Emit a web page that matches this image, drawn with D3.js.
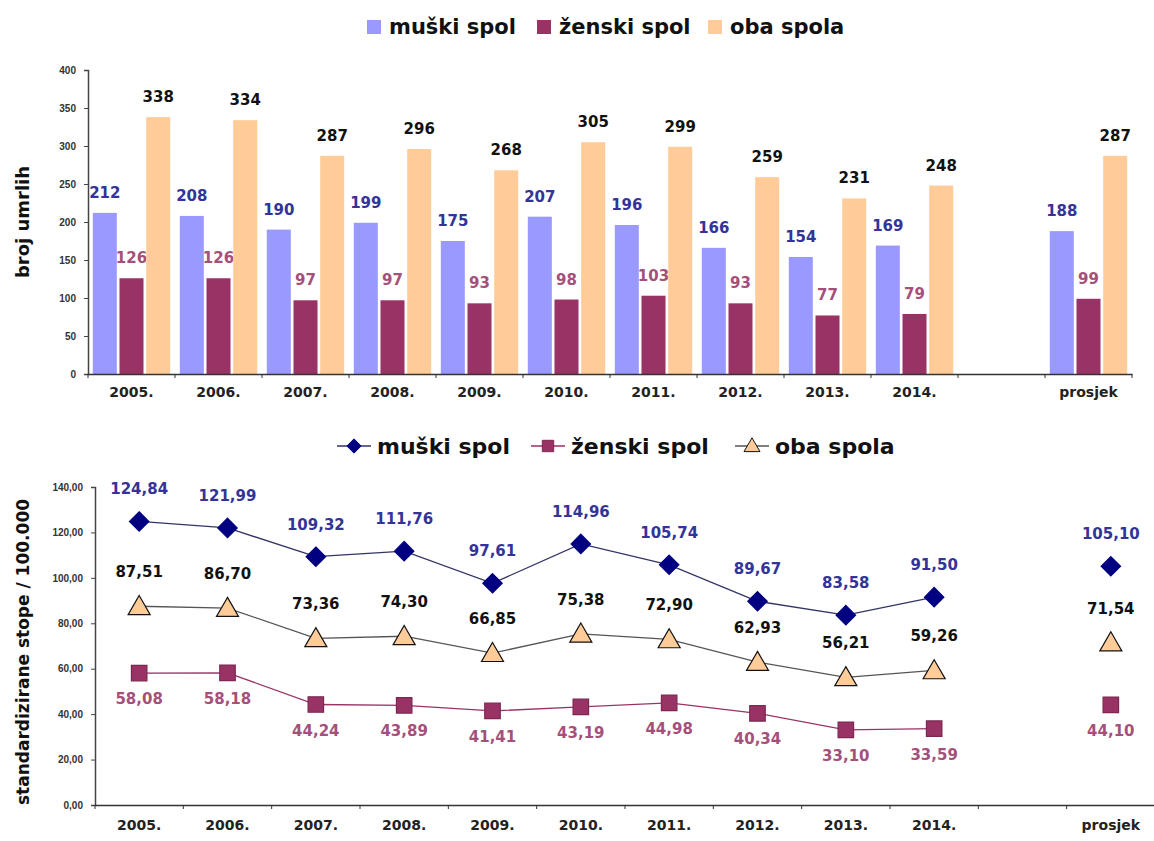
<!DOCTYPE html>
<html>
<head>
<meta charset="utf-8">
<script src="https://cdn.jsdelivr.net/npm/d3@7"></script>
<style>
  body { margin: 0; background: #fff; }
  svg { font-family: "DejaVu Sans", Verdana, sans-serif; font-weight: bold; }
</style>
</head>
<body>
<svg id="chart" width="1154" height="841"></svg>
<script>
// categories (blank slot between 2014. and prosjek)
var categories = ["2005.", "2006.", "2007.", "2008.", "2009.", "2010.", "2011.", "2012.", "2013.", "2014.", "", "prosjek"]
var seriesNames = ["muški spol", "ženski spol", "oba spola"]

// number of deaths
var deathsMale   = [212, 208, 190, 199, 175, 207, 196, 166, 154, 169, null, 188]
var deathsFemale = [126, 126, 97, 97, 93, 98, 103, 93, 77, 79, null, 99]
var deathsBoth   = [338, 334, 287, 296, 268, 305, 299, 259, 231, 248, null, 287]
var deathTicks   = [0, 50, 100, 150, 200, 250, 300, 350, 400]

// standardized rates / 100.000
var rateMale   = [124.84, 121.99, 109.32, 111.76, 97.61, 114.96, 105.74, 89.67, 83.58, 91.50, null, 105.10]
var rateFemale = [58.08, 58.18, 44.24, 43.89, 41.41, 43.19, 44.98, 40.34, 33.10, 33.59, null, 44.10]
var rateBoth   = [87.51, 86.70, 73.36, 74.30, 66.85, 75.38, 72.90, 62.93, 56.21, 59.26, null, 71.54]
var rateTicks  = [0, 20, 40, 60, 80, 100, 120, 140]

var hr = d3.formatLocale({decimal: ",", thousands: ".", grouping: [3], currency: ["", ""]})
var fmt2 = hr.format(".2f")
var tickFont = "'Liberation Sans', Arial, sans-serif"
var mainFont = "'DejaVu Sans', Verdana, sans-serif"

var svg = d3.select("#chart")
var keys = categories.map((c, i) => "c" + i)

// ---------- top: bar chart ----------
var barColors = ["#9999ff", "#993366", "#ffcc99"]
var barLabelColors = ["#333399", "#a5507a", "#111"]
var m1 = {left: 88, right: 1132, top: 70, bottom: 374}

var x1 = d3.scaleBand().domain(keys).range([m1.left, m1.right])
var xs1 = d3.scaleBand().domain([0, 1, 2]).range([0, x1.bandwidth()]).paddingInner(0.1).paddingOuter(0.18)
var y1 = d3.scaleLinear().domain([0, 400]).range([m1.bottom, m1.top])

// legend
var leg1 = svg.append("g").attr("transform", "translate(367,27)")
var leg1x = [0, 170, 341]
seriesNames.forEach((n, i) => {
  var g = leg1.append("g").attr("transform", `translate(${leg1x[i]},0)`)
  g.append("rect").attr("x", 0).attr("y", -7).attr("width", 14).attr("height", 14).attr("fill", barColors[i])
  g.append("text").attr("x", 22).attr("y", 7).attr("font-size", 21).attr("fill", "#111").text(n)
})

var barSeries = [deathsMale, deathsFemale, deathsBoth]
barSeries.forEach((vals, s) => {
  var g = svg.append("g")
  keys.forEach((k, i) => {
    if (vals[i] == null) return
    var bx = x1(k) + xs1(s)
    g.append("rect")
      .attr("x", bx).attr("y", y1(vals[i]))
      .attr("width", xs1.bandwidth()).attr("height", y1(0) - y1(vals[i]))
      .attr("fill", barColors[s])
    g.append("text")
      .attr("x", bx + xs1.bandwidth() / 2).attr("y", y1(vals[i]) - 15)
      .attr("text-anchor", "middle").attr("font-size", 15)
      .attr("fill", barLabelColors[s]).text(vals[i])
  })
})

var yAxis1 = d3.axisLeft(y1).tickValues(deathTicks).tickSize(4).tickPadding(8)
var ga1 = svg.append("g").attr("transform", `translate(${m1.left},0)`).call(yAxis1)
ga1.select(".domain").attr("stroke", "#444").attr("stroke-width", 1.5)
ga1.selectAll(".tick line").attr("stroke", "#444")
ga1.selectAll(".tick text").attr("font-size", 10).attr("fill", "#333").attr("font-family", tickFont)

var xAxis1 = d3.axisBottom(x1).tickSize(0).tickPadding(13).tickFormat((k, i) => categories[i])
var gx1 = svg.append("g").attr("transform", `translate(0,${m1.bottom})`).call(xAxis1)
gx1.attr("font-family", mainFont).attr("font-size", 14)
gx1.select(".domain").attr("stroke", "#333").attr("stroke-width", 1.5)
gx1.selectAll(".tick text").attr("fill", "#222")
gx1.selectAll(".bound").data(keys.concat(["end"])).join("line")
  .attr("x1", k => k === "end" ? m1.right : x1(k)).attr("x2", k => k === "end" ? m1.right : x1(k))
  .attr("y1", 0).attr("y2", 4).attr("stroke", "#333")

svg.append("text")
  .attr("transform", `translate(29,${(m1.top + m1.bottom) / 2}) rotate(-90)`)
  .attr("text-anchor", "middle").attr("font-size", 18).attr("fill", "#111").text("broj umrlih")

// ---------- bottom: line chart ----------
var m2 = {left: 95, right: 1155, top: 487, bottom: 805}
var x2 = d3.scaleBand().domain(keys).range([m2.left, m2.right])
var y2 = d3.scaleLinear().domain([0, 140]).range([m2.bottom, m2.top])
var cx = k => x2(k) + x2.bandwidth() / 2

var diamond = d3.symbol().type(d3.symbolDiamond2).size(240)
var square = d3.symbol().type(d3.symbolSquare).size(240)
var triangle = d3.symbol().type(d3.symbolTriangle).size(210)

var lineSeries = [
  {vals: rateMale, line: "#333366", fill: "#000080", stroke: "#000080", sym: diamond, label: "#333399", dy: -27},
  {vals: rateFemale, line: "#993366", fill: "#993366", stroke: "#7a2850", sym: square, label: "#a5507a", dy: 31},
  {vals: rateBoth, line: "#555", fill: "#ffcc99", stroke: "#111", sym: triangle, label: "#111", dy: -29}
]

var yAxis2 = d3.axisLeft(y2).tickValues(rateTicks).tickSize(4).tickPadding(8).tickFormat(fmt2)
var ga2 = svg.append("g").attr("transform", `translate(${m2.left},0)`).call(yAxis2)
ga2.select(".domain").attr("stroke", "#444").attr("stroke-width", 1.5)
ga2.selectAll(".tick line").attr("stroke", "#444")
ga2.selectAll(".tick text").attr("font-size", 10).attr("fill", "#333").attr("font-family", tickFont)

var xAxis2 = d3.axisBottom(x2).tickSize(0).tickPadding(15).tickFormat((k, i) => categories[i])
var gx2 = svg.append("g").attr("transform", `translate(0,${m2.bottom})`).call(xAxis2)
gx2.attr("font-family", mainFont).attr("font-size", 14)
gx2.select(".domain").attr("stroke", "#333").attr("stroke-width", 1.5)
gx2.selectAll(".tick text").attr("fill", "#222")
gx2.selectAll(".bound").data(keys).join("line")
  .attr("x1", k => x2(k)).attr("x2", k => x2(k))
  .attr("y1", 0).attr("y2", 4).attr("stroke", "#333")

lineSeries.forEach(s => {
  var pts = keys.map((k, i) => ({k: k, v: s.vals[i], i: i}))
  var connected = pts.filter(p => p.i < 10)
  svg.append("path")
    .datum(connected)
    .attr("fill", "none").attr("stroke", s.line).attr("stroke-width", 1.3)
    .attr("d", d3.line().x(p => cx(p.k)).y(p => y2(p.v)))
  var g = svg.append("g")
  pts.filter(p => p.v != null).forEach(p => {
    g.append("path")
      .attr("transform", `translate(${cx(p.k)},${y2(p.v) + (s.sym === triangle ? 2 : 0)})`)
      .attr("d", s.sym()).attr("fill", s.fill).attr("stroke", s.stroke).attr("stroke-width", 1.2)
    g.append("text")
      .attr("x", cx(p.k)).attr("y", y2(p.v) + s.dy)
      .attr("text-anchor", "middle").attr("font-size", 15)
      .attr("fill", s.label).text(fmt2(p.v))
  })
})

// legend bottom
var leg2 = svg.append("g").attr("transform", "translate(337,446)")
var leg2x = [0, 194, 398]
var legSyms = [
  d3.symbol().type(d3.symbolDiamond2).size(130),
  d3.symbol().type(d3.symbolSquare).size(130),
  d3.symbol().type(d3.symbolTriangle).size(110)
]
lineSeries.forEach((s, i) => {
  var g = leg2.append("g").attr("transform", `translate(${leg2x[i]},0)`)
  g.append("line").attr("x1", 0).attr("x2", 34).attr("y1", 0).attr("y2", 0).attr("stroke", s.line).attr("stroke-width", 1.5)
  g.append("path").attr("transform", `translate(17,${i === 2 ? 1 : 0})`)
    .attr("d", legSyms[i]()).attr("fill", s.fill).attr("stroke", s.stroke).attr("stroke-width", 1)
  g.append("text").attr("x", 40).attr("y", 8).attr("font-size", 22).attr("fill", "#111").text(seriesNames[i])
})

svg.append("text")
  .attr("transform", `translate(29,${(m2.top + m2.bottom) / 2 + 6}) rotate(-90)`)
  .attr("text-anchor", "middle").attr("font-size", 17).attr("fill", "#111").text("standardizirane stope / 100.000")
</script>
</body>
</html>
